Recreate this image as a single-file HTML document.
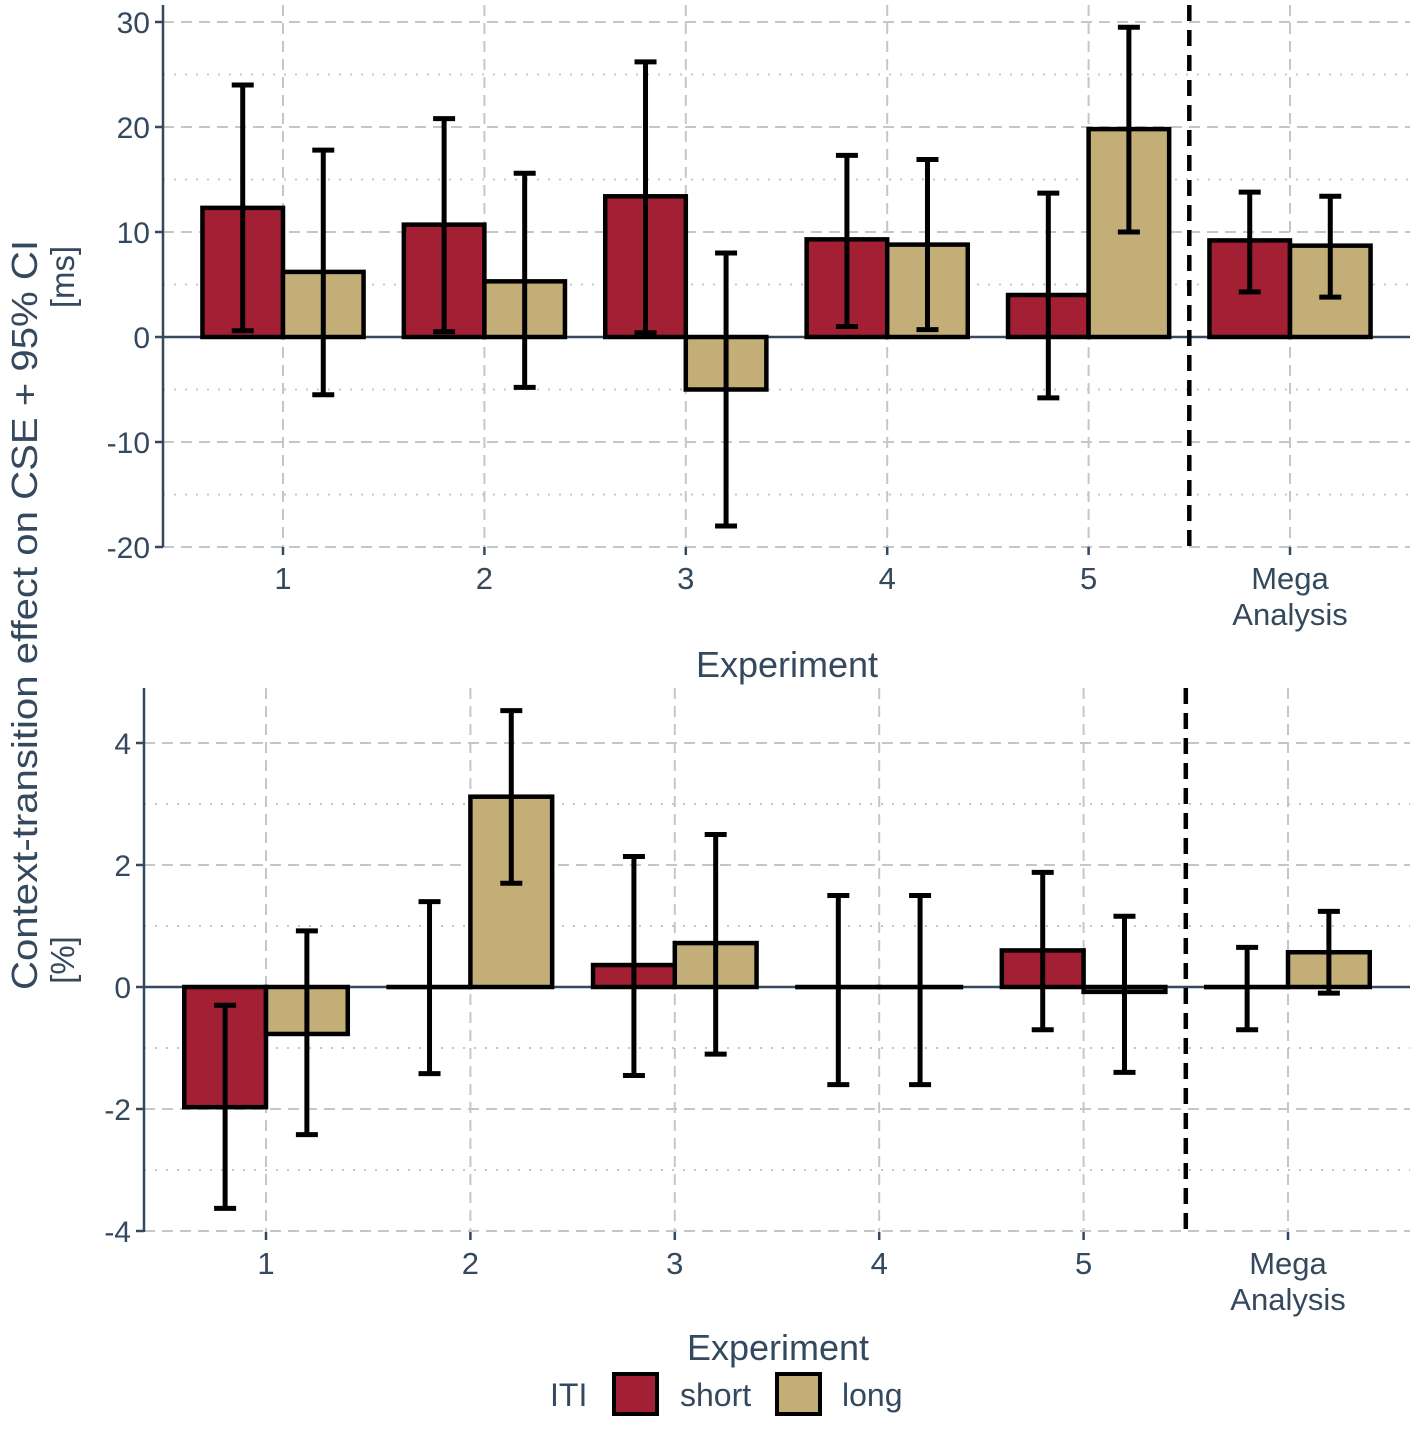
<!DOCTYPE html>
<html><head><meta charset="utf-8"><style>
body{margin:0;background:#fff;}
svg{font-family:"Liberation Sans",sans-serif;}
</style></head><body>
<svg id="chart" width="1416" height="1424" viewBox="0 0 1416 1424" xmlns="http://www.w3.org/2000/svg">
<g id="top"></g>
<g id="bot"></g>
<text transform="translate(37,615) rotate(-90)" text-anchor="middle" font-size="36" fill="#34495e" textLength="750" lengthAdjust="spacingAndGlyphs">Context-transition effect on CSE + 95% CI</text>
<text transform="translate(74,277) rotate(-90)" text-anchor="middle" font-size="33" fill="#34495e">[ms]</text>
<text transform="translate(74,960) rotate(-90)" text-anchor="middle" font-size="33" fill="#34495e">[%]</text>
<text x="787" y="677" text-anchor="middle" font-size="36" fill="#34495e">Experiment</text>
<text x="778" y="1360" text-anchor="middle" font-size="36" fill="#34495e">Experiment</text>
<g>
<text x="550" y="1406" font-size="32" fill="#34495e">ITI</text>
<rect x="614" y="1374" width="43" height="40" fill="#a31f34" stroke="#000" stroke-width="4"/>
<text x="680" y="1406" font-size="32" fill="#34495e">short</text>
<rect x="777" y="1374" width="43" height="40" fill="#c4ae78" stroke="#000" stroke-width="4"/>
<text x="842" y="1406" font-size="32" fill="#34495e">long</text>
</g>
</svg>
<script>
const categories=["1","2","3","4","5","Mega Analysis"];
const topShort=[12.3,10.7,13.4,9.3,4.0,9.2];
const topShortLo=[0.6,0.5,0.4,1.0,-5.8,4.3];
const topShortHi=[24,20.8,26.2,17.3,13.7,13.8];
const topLong=[6.2,5.3,-5.0,8.8,19.8,8.7];
const topLongLo=[-5.5,-4.8,-18,0.7,10,3.8];
const topLongHi=[17.8,15.6,8,16.9,29.5,13.4];
const topTicks=[-20,-10,0,10,20,30];
const botShort=[-1.97,0,0.36,0,0.6,0];
const botShortLo=[-3.63,-1.42,-1.45,-1.6,-0.7,-0.7];
const botShortHi=[-0.3,1.4,2.14,1.5,1.88,0.65];
const botLong=[-0.77,3.12,0.72,0,-0.08,0.57];
const botLongLo=[-2.42,1.7,-1.1,-1.6,-1.4,-0.1];
const botLongHi=[0.92,4.53,2.5,1.5,1.16,1.24];
const botTicks=[-4,-2,0,2,4];
const NS="http://www.w3.org/2000/svg";
function mk(p,tag,at){const e=document.createElementNS(NS,tag);for(const k in at)e.setAttribute(k,at[k]);p.appendChild(e);return e;}
function panel(g,o){
 const y=v=>o.y0+(v-o.v0)*(o.y1-o.y0)/(o.v1-o.v0);
 const x=i=>o.x0+i*o.dx;
 const grid="#c3c7cb";
 for(let i=0;i<o.ticks.length;i++){const m=o.ticks[i]+o.step/2;if(y(m)>o.top){const l=mk(g,'line',{x1:o.ax,x2:o.right,y1:y(m),y2:y(m),stroke:grid,'stroke-width':2,'stroke-dasharray':'2 9'});}}
 o.ticks.forEach(t=>{const l=mk(g,'line',{x1:o.ax,x2:o.right,y1:y(t),y2:y(t),stroke:grid,'stroke-width':2,'stroke-dasharray':'11 7'});
  const tk=mk(g,'line',{x1:o.ax-8,x2:o.ax,y1:y(t),y2:y(t),stroke:'#34495e','stroke-width':2.5});
  const tx=mk(g,'text',{x:o.ax-13,y:y(t)+11,'text-anchor':'end','font-size':30,fill:'#34495e'});tx.textContent=t;});
 categories.forEach((c,i)=>{const l=mk(g,'line',{x1:x(i),x2:x(i),y1:o.top,y2:o.bottom,stroke:grid,'stroke-width':2,'stroke-dasharray':'11 7'});
  const tk=mk(g,'line',{x1:x(i),x2:x(i),y1:o.bottom,y2:o.bottom+8,stroke:'#34495e','stroke-width':2.5});
  const parts=c.split(' ');parts.forEach((p,j)=>{const tx=mk(g,'text',{x:x(i),y:o.bottom+42+j*36,'text-anchor':'middle','font-size':31,fill:'#34495e'});tx.textContent=p;});});
 const ax=mk(g,'line',{x1:o.ax,x2:o.ax,y1:o.top,y2:o.bottom,stroke:'#34495e','stroke-width':2.5});
 const z=mk(g,'line',{x1:o.ax,x2:o.right,y1:y(0),y2:y(0),stroke:'#34495e','stroke-width':2.5});
 const bw=o.dx*0.4;
 const series=[[o.s,o.sl,o.sh,'#a31f34','short'],[o.l,o.ll,o.lh,'#c4ae78','long']];
 series.forEach((s,k)=>{s[0].forEach((v,i)=>{const bx=x(i)-bw+k*bw;const r=mk(g,'rect',{x:bx,y:Math.min(y(v),y(0)),width:bw,height:Math.max(Math.abs(y(v)-y(0)),0.1),fill:s[3],stroke:'#000','stroke-width':4.5});});});
 series.forEach((s,k)=>{s[0].forEach((v,i)=>{const cx=x(i)-bw/2+k*bw;const e=mk(g,'path',{d:`M${cx-11},${y(s[2][i])}H${cx+11}M${cx},${y(s[2][i])}V${y(s[1][i])}M${cx-11},${y(s[1][i])}H${cx+11}`,stroke:'#000','stroke-width':5,fill:'none'});});});
 const sep=mk(g,'line',{x1:(x(4)+x(5))/2,x2:(x(4)+x(5))/2,y1:o.top,y2:o.bottom,stroke:'#000','stroke-width':4.5,'stroke-dasharray':'16 9'});
}
panel(document.getElementById('top'),{y0:337,y1:232,v0:0,v1:10,x0:283,dx:201.4,ax:163,right:1410,top:5,bottom:547,ticks:topTicks,step:10,s:topShort,sl:topShortLo,sh:topShortHi,l:topLong,ll:topLongLo,lh:topLongHi});
panel(document.getElementById('bot'),{y0:987,y1:865,v0:0,v1:2,x0:266,dx:204.4,ax:144,right:1410,top:688,bottom:1232,ticks:botTicks,step:2,s:botShort,sl:botShortLo,sh:botShortHi,l:botLong,ll:botLongLo,lh:botLongHi});
</script>
</body></html>
